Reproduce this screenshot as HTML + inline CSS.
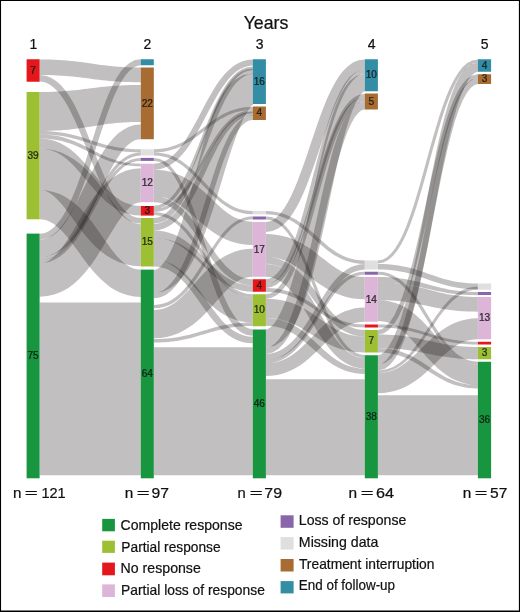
<!DOCTYPE html>
<html><head><meta charset="utf-8"><title>Years</title>
<style>
html,body{margin:0;padding:0;background:#fff}
body{width:520px;height:612px;overflow:hidden}
svg{display:block}
text{font-family:"Liberation Sans",sans-serif;fill:#111;stroke:#111;stroke-width:0.22}
.f{fill:rgba(36,30,28,0.283)}
</style></head><body>
<svg width="520" height="612" viewBox="0 0 520 612">
<rect x="0" y="0" width="520" height="612" fill="#fff"/>
<g>
<path class="f" d="M39.6,59.4L44.8,59.4L49.7,59.5L54.4,59.7L58.8,59.9L63.0,60.2L67.0,60.5L70.8,60.9L74.5,61.3L78.0,61.7L81.4,62.1L84.7,62.6L88.0,63.1L91.2,63.5L94.4,64.0L97.6,64.4L100.9,64.9L104.2,65.3L107.6,65.7L111.0,66.1L114.7,66.4L118.5,66.7L122.4,67.0L126.6,67.2L131.1,67.4L135.8,67.5L140.8,67.5L140.8,82.2L135.6,82.2L130.7,82.1L126.0,82.0L121.6,81.8L117.4,81.5L113.4,81.2L109.6,80.9L106.0,80.6L102.4,80.2L99.0,79.8L95.7,79.4L92.4,79.0L89.2,78.6L86.0,78.1L82.7,77.7L79.5,77.3L76.2,77.0L72.8,76.6L69.3,76.3L65.7,76.0L61.9,75.7L57.9,75.5L53.7,75.3L49.3,75.1L44.6,75.0L39.6,75.0Z"/>
<path class="f" d="M39.6,75.0L45.5,75.7L51.0,77.8L56.0,80.9L60.7,85.1L65.0,90.1L69.0,95.8L72.9,102.1L76.5,109.0L80.0,116.4L83.3,124.1L86.6,132.1L89.8,140.2L93.0,148.4L96.2,156.6L99.4,164.7L102.7,172.6L106.0,180.2L109.4,187.3L112.9,194.0L116.5,200.0L120.2,205.3L124.1,209.7L128.0,213.3L132.1,215.9L136.4,217.5L140.8,218.0L140.8,223.6L135.0,222.9L129.6,220.9L124.6,217.8L120.0,213.7L115.7,208.8L111.7,203.1L107.8,196.8L104.2,189.9L100.6,182.6L97.2,174.9L93.9,167.0L90.6,158.9L87.4,150.7L84.1,142.5L80.9,134.4L77.6,126.6L74.2,119.0L70.8,111.9L67.3,105.3L63.6,99.3L59.9,94.1L56.0,89.7L52.1,86.2L48.0,83.6L43.9,82.1L39.6,81.6Z"/>
<path class="f" d="M39.6,92.0L44.4,92.0L49.0,91.9L53.2,91.8L57.2,91.6L61.0,91.4L64.7,91.1L68.1,90.8L71.5,90.5L74.7,90.2L77.9,89.9L81.1,89.5L84.3,89.1L87.5,88.7L90.7,88.3L94.1,87.9L97.5,87.5L101.0,87.1L104.7,86.7L108.5,86.3L112.5,86.0L116.6,85.7L121.0,85.5L125.5,85.3L130.4,85.1L135.4,85.0L140.8,85.0L140.8,121.9L136.0,121.9L131.4,122.0L127.1,122.2L123.1,122.4L119.3,122.7L115.7,123.1L112.2,123.4L108.9,123.8L105.6,124.3L102.4,124.7L99.3,125.2L96.1,125.7L92.9,126.3L89.7,126.8L86.4,127.3L83.0,127.8L79.5,128.3L75.8,128.8L72.0,129.3L68.0,129.7L63.8,130.1L59.5,130.4L54.9,130.6L50.1,130.8L45.0,131.0L39.6,131.0Z"/>
<path class="f" d="M39.6,131.0L44.8,131.1L49.6,131.3L54.2,131.7L58.6,132.2L62.7,132.8L66.7,133.5L70.4,134.3L74.1,135.2L77.5,136.1L80.9,137.1L84.2,138.1L87.5,139.2L90.7,140.2L93.9,141.3L97.1,142.3L100.4,143.3L103.7,144.3L107.2,145.2L110.7,146.0L114.4,146.8L118.2,147.5L122.2,148.1L126.5,148.6L131.0,148.9L135.7,149.2L140.8,149.2L140.8,152.4L135.6,152.3L130.8,152.1L126.2,151.7L121.8,151.2L117.7,150.6L113.8,149.9L110.0,149.1L106.4,148.3L102.9,147.4L99.5,146.4L96.2,145.4L92.9,144.4L89.7,143.3L86.5,142.3L83.3,141.3L80.0,140.3L76.7,139.3L73.2,138.4L69.7,137.6L66.0,136.8L62.2,136.1L58.1,135.5L53.9,135.1L49.4,134.7L44.6,134.5L39.6,134.4Z"/>
<path class="f" d="M39.6,134.4L44.8,134.5L49.7,134.9L54.4,135.5L58.8,136.3L62.9,137.3L66.9,138.5L70.7,139.7L74.3,141.2L77.8,142.7L81.2,144.3L84.5,145.9L87.8,147.6L91.0,149.3L94.1,150.9L97.4,152.6L100.6,154.2L103.9,155.8L107.3,157.2L110.8,158.6L114.5,159.8L118.3,161.0L122.3,161.9L126.5,162.7L131.0,163.3L135.8,163.6L140.8,163.8L140.8,166.3L135.6,166.2L130.8,165.8L126.1,165.3L121.8,164.5L117.6,163.6L113.7,162.5L109.9,161.3L106.2,159.9L102.7,158.5L99.3,157.0L96.0,155.4L92.7,153.8L89.4,152.2L86.2,150.6L83.0,149.0L79.7,147.5L76.4,146.0L72.9,144.6L69.4,143.3L65.8,142.2L62.0,141.1L58.0,140.2L53.8,139.5L49.3,139.0L44.6,138.6L39.6,138.5Z"/>
<path class="f" d="M39.6,138.5L45.3,138.8L50.7,139.8L55.7,141.3L60.5,143.3L65.0,145.7L69.3,148.6L73.3,151.7L77.0,155.1L80.6,158.7L84.1,162.4L87.5,166.2L90.8,170.1L94.0,174.0L97.2,177.9L100.4,181.7L103.6,185.3L106.8,188.8L110.1,192.1L113.4,195.1L116.9,197.8L120.4,200.2L124.1,202.2L128.0,203.8L132.0,205.0L136.3,205.7L140.8,206.0L140.8,215.6L135.1,215.3L129.8,214.3L124.7,212.8L119.9,210.8L115.5,208.4L111.2,205.6L107.2,202.5L103.4,199.1L99.8,195.6L96.3,191.9L93.0,188.0L89.7,184.2L86.4,180.3L83.2,176.4L80.0,172.7L76.8,169.0L73.5,165.5L70.2,162.3L66.9,159.3L63.4,156.6L59.9,154.3L56.2,152.3L52.4,150.7L48.4,149.5L44.1,148.8L39.6,148.5Z"/>
<path class="f" d="M39.6,148.5L47.4,149.0L54.9,150.5L61.8,152.8L68.3,155.9L74.2,159.4L79.5,163.4L84.4,167.7L88.8,172.1L92.9,176.7L96.7,181.3L100.3,185.9L103.8,190.4L107.0,194.9L110.2,199.2L113.3,203.3L116.3,207.1L119.2,210.6L122.0,213.7L124.7,216.4L127.3,218.7L129.8,220.5L132.1,221.9L134.2,222.9L136.3,223.6L138.4,224.1L140.8,224.2L140.8,266.2L133.0,265.7L125.5,264.2L118.5,261.9L112.0,258.8L106.1,255.2L100.8,251.2L95.9,246.9L91.5,242.4L87.4,237.8L83.6,233.2L80.0,228.6L76.6,224.0L73.4,219.6L70.2,215.3L67.2,211.2L64.2,207.3L61.3,203.8L58.5,200.7L55.8,197.9L53.2,195.6L50.7,193.7L48.4,192.3L46.3,191.3L44.2,190.6L42.0,190.2L39.6,190.0Z"/>
<path class="f" d="M39.6,190.0L46.7,190.5L53.4,191.9L59.7,194.1L65.5,197.0L70.8,200.4L75.7,204.2L80.2,208.3L84.3,212.7L88.2,217.2L91.8,221.8L95.2,226.5L98.5,231.2L101.7,235.8L104.9,240.3L108.0,244.6L111.0,248.8L114.0,252.6L117.0,256.2L120.0,259.3L123.0,262.1L125.9,264.4L128.8,266.3L131.6,267.7L134.5,268.8L137.5,269.4L140.8,269.6L140.8,296.9L133.9,296.4L127.3,295.1L121.1,293.0L115.3,290.2L110.0,286.9L105.2,283.1L100.7,279.1L96.5,274.8L92.6,270.4L88.9,265.9L85.4,261.3L82.0,256.7L78.7,252.1L75.4,247.7L72.3,243.4L69.1,239.3L66.0,235.6L63.0,232.1L59.9,229.0L57.0,226.4L54.0,224.1L51.2,222.4L48.4,221.0L45.6,220.1L42.7,219.5L39.6,219.3Z"/>
<path class="f" d="M39.6,233.8L44.3,233.2L48.7,231.2L53.1,228.1L57.3,223.7L61.5,218.2L65.4,211.7L69.2,204.3L72.9,196.1L76.4,187.4L79.9,178.1L83.2,168.5L86.4,158.6L89.7,148.6L92.9,138.5L96.1,128.6L99.3,118.9L102.6,109.5L105.9,100.5L109.4,92.2L113.0,84.5L116.8,77.6L120.8,71.6L125.2,66.6L129.9,62.7L135.1,60.1L140.8,59.2L140.8,65.2L136.9,65.9L133.2,67.7L129.4,70.8L125.6,75.2L121.9,80.7L118.3,87.2L114.8,94.6L111.4,102.7L108.1,111.5L104.9,120.8L101.6,130.4L98.4,140.3L95.2,150.3L92.0,160.4L88.7,170.3L85.3,180.1L81.8,189.5L78.2,198.4L74.4,206.8L70.4,214.5L66.2,221.4L61.7,227.4L56.9,232.4L51.6,236.2L45.8,238.6L39.6,239.5Z"/>
<path class="f" d="M39.6,239.5L43.3,239.2L46.8,238.2L50.3,236.5L53.8,234.1L57.4,230.9L60.9,227.1L64.4,222.6L67.9,217.5L71.3,211.9L74.7,206.0L78.0,199.7L81.3,193.2L84.6,186.6L87.9,179.9L91.2,173.2L94.6,166.7L98.0,160.3L101.6,154.2L105.3,148.4L109.3,142.9L113.5,138.0L118.0,133.6L123.0,129.9L128.4,126.9L134.4,125.1L140.8,124.4L140.8,139.2L137.5,139.6L134.3,140.6L131.1,142.4L127.9,144.9L124.6,148.2L121.3,152.2L118.1,156.9L114.9,162.1L111.7,167.8L108.6,173.9L105.5,180.3L102.4,186.9L99.3,193.6L96.1,200.4L92.9,207.2L89.5,213.8L86.0,220.3L82.3,226.6L78.4,232.5L74.3,238.1L69.7,243.2L64.7,247.8L59.3,251.6L53.2,254.6L46.6,256.5L39.6,257.2Z"/>
<path class="f" d="M39.6,257.2L44.7,256.8L49.5,255.5L54.0,253.5L58.3,250.8L62.4,247.5L66.3,243.5L70.1,239.1L73.7,234.2L77.2,228.9L80.6,223.4L84.0,217.6L87.2,211.6L90.4,205.6L93.6,199.6L96.8,193.6L100.1,187.8L103.4,182.1L106.8,176.7L110.3,171.7L114.0,167.1L117.8,163.0L121.9,159.4L126.2,156.5L130.8,154.3L135.6,152.9L140.8,152.4L140.8,155.5L136.2,155.9L131.9,157.2L127.8,159.1L123.8,161.8L120.0,165.2L116.3,169.1L112.8,173.6L109.4,178.4L106.0,183.7L102.8,189.3L99.5,195.1L96.3,201.0L93.1,207.0L89.9,213.1L86.6,219.1L83.3,224.9L79.8,230.5L76.2,235.9L72.5,240.9L68.6,245.6L64.4,249.7L60.1,253.2L55.4,256.2L50.5,258.4L45.2,259.7L39.6,260.2Z"/>
<path class="f" d="M39.6,260.2L44.7,259.8L49.5,258.6L54.0,256.6L58.3,254.0L62.4,250.7L66.3,246.8L70.1,242.5L73.7,237.7L77.2,232.6L80.6,227.2L83.9,221.5L87.2,215.7L90.4,209.8L93.6,203.9L96.8,198.1L100.1,192.4L103.4,186.9L106.8,181.7L110.4,176.7L114.0,172.2L117.9,168.2L121.9,164.7L126.2,161.9L130.8,159.7L135.7,158.4L140.8,157.9L140.8,160.9L136.2,161.3L131.8,162.5L127.7,164.5L123.7,167.1L119.9,170.4L116.3,174.2L112.7,178.6L109.3,183.3L106.0,188.5L102.7,193.9L99.5,199.6L96.3,205.4L93.1,211.3L89.8,217.2L86.5,223.0L83.2,228.7L79.7,234.2L76.2,239.5L72.4,244.4L68.5,248.9L64.4,252.9L60.0,256.4L55.4,259.3L50.4,261.4L45.2,262.7L39.6,263.2Z"/>
<path class="f" d="M39.6,263.2L42.3,263.0L44.8,262.4L47.3,261.4L49.9,259.9L52.7,257.8L55.5,255.2L58.5,252.0L61.6,248.3L64.6,244.1L67.7,239.5L70.8,234.6L73.9,229.4L77.1,224.1L80.3,218.6L83.6,213.0L87.0,207.5L90.6,202.0L94.4,196.6L98.4,191.4L102.8,186.4L107.6,181.7L113.0,177.4L119.1,173.7L125.8,170.8L133.1,169.0L140.8,168.3L140.8,202.2L138.8,202.4L136.8,202.9L134.8,203.7L132.5,205.1L130.0,207.1L127.3,209.7L124.5,212.9L121.6,216.7L118.6,220.9L115.6,225.5L112.5,230.5L109.3,235.7L106.1,241.1L102.9,246.7L99.5,252.3L95.9,257.9L92.1,263.4L88.1,268.8L83.8,274.1L79.1,279.1L74.0,283.7L68.3,287.9L62.0,291.5L55.0,294.3L47.5,296.1L39.6,296.7Z"/>
<path class="f" d="M39.6,302.5L44.7,302.5L49.5,302.5L54.1,302.5L58.4,302.5L62.4,302.5L66.3,302.5L70.1,302.5L73.6,302.5L77.1,302.5L80.5,302.5L83.7,302.5L87.0,302.5L90.2,302.5L93.4,302.5L96.7,302.5L99.9,302.5L103.3,302.5L106.8,302.5L110.3,302.5L114.1,302.5L118.0,302.5L122.0,302.5L126.3,302.5L130.9,302.5L135.7,302.5L140.8,302.5L140.8,475.3L135.7,475.3L130.9,475.3L126.3,475.3L122.0,475.3L118.0,475.3L114.1,475.3L110.3,475.3L106.8,475.3L103.3,475.3L99.9,475.3L96.7,475.3L93.4,475.3L90.2,475.3L87.0,475.3L83.7,475.3L80.5,475.3L77.1,475.3L73.6,475.3L70.1,475.3L66.3,475.3L62.4,475.3L58.4,475.3L54.1,475.3L49.5,475.3L44.7,475.3L39.6,475.3Z"/>
<path class="f" d="M153.8,149.2L158.7,149.1L163.3,148.6L167.6,147.7L171.7,146.6L175.6,145.3L179.3,143.7L182.9,141.9L186.3,139.9L189.6,137.8L192.9,135.6L196.0,133.2L199.2,130.8L202.3,128.4L205.5,126.0L208.7,123.5L211.9,121.2L215.3,118.9L218.7,116.7L222.3,114.6L226.0,112.8L229.9,111.1L234.0,109.7L238.3,108.5L242.9,107.6L247.7,107.1L252.8,106.9L252.8,110.0L247.9,110.2L243.3,110.7L239.0,111.5L234.9,112.6L231.0,114.0L227.3,115.6L223.7,117.4L220.3,119.3L217.0,121.5L213.7,123.7L210.5,126.0L207.4,128.4L204.3,130.9L201.1,133.3L197.9,135.7L194.7,138.1L191.4,140.4L187.9,142.6L184.3,144.6L180.6,146.5L176.7,148.2L172.6,149.6L168.3,150.8L163.7,151.7L158.9,152.2L153.8,152.4Z"/>
<path class="f" d="M153.8,152.4L159.0,152.7L163.8,153.4L168.4,154.6L172.8,156.3L176.9,158.3L180.8,160.6L184.5,163.2L188.1,166.0L191.6,169.0L194.9,172.2L198.1,175.5L201.3,178.8L204.5,182.2L207.6,185.6L210.8,188.9L214.0,192.1L217.2,195.2L220.5,198.2L224.0,200.9L227.5,203.3L231.2,205.5L235.1,207.4L239.2,208.9L243.4,210.0L248.0,210.8L252.8,211.0L252.8,214.3L247.6,214.0L242.8,213.3L238.2,212.1L233.8,210.4L229.7,208.4L225.8,206.1L222.0,203.5L218.5,200.6L215.0,197.6L211.7,194.4L208.5,191.1L205.3,187.8L202.1,184.4L199.0,181.0L195.8,177.7L192.7,174.4L189.4,171.3L186.1,168.4L182.7,165.7L179.1,163.2L175.4,161.0L171.5,159.1L167.5,157.6L163.2,156.5L158.6,155.7L153.8,155.5Z"/>
<path class="f" d="M153.8,157.9L159.2,158.7L164.3,161.0L169.0,164.6L173.4,169.4L177.6,175.3L181.5,182.0L185.3,189.5L188.9,197.8L192.4,206.6L195.7,215.8L199.1,225.5L202.3,235.3L205.6,245.2L208.8,255.2L212.1,265.0L215.4,274.5L218.7,283.7L222.2,292.3L225.7,300.4L229.3,307.7L233.1,314.1L236.9,319.5L240.9,323.8L244.8,326.8L248.8,328.6L252.8,329.2L252.8,335.8L246.8,334.9L241.4,332.4L236.4,328.5L231.9,323.4L227.8,317.4L223.9,310.5L220.3,302.8L216.8,294.5L213.5,285.6L210.3,276.3L207.1,266.6L204.1,256.7L201.0,246.7L198.0,236.7L194.9,226.8L191.8,217.2L188.6,208.0L185.3,199.2L181.9,191.0L178.4,183.6L174.7,177.0L170.9,171.4L166.9,166.9L162.7,163.6L158.4,161.6L153.8,160.9Z"/>
<path class="f" d="M153.8,163.8L158.2,163.3L162.4,162.2L166.5,160.3L170.3,157.7L174.1,154.5L177.7,150.7L181.2,146.3L184.6,141.5L187.9,136.3L191.1,130.8L194.3,125.1L197.5,119.2L200.6,113.2L203.7,107.2L206.9,101.2L210.2,95.4L213.5,89.7L216.9,84.3L220.5,79.2L224.3,74.6L228.3,70.4L232.6,66.7L237.1,63.7L242.0,61.4L247.2,59.9L252.8,59.4L252.8,65.6L248.4,66.0L244.2,67.2L240.2,69.0L236.3,71.6L232.6,74.8L229.0,78.6L225.5,83.0L222.1,87.7L218.7,92.9L215.5,98.4L212.3,104.2L209.1,110.0L206.0,116.0L202.8,122.0L199.7,128.0L196.4,133.9L193.1,139.5L189.6,144.9L186.0,150.0L182.2,154.6L178.2,158.8L174.0,162.5L169.4,165.5L164.5,167.8L159.3,169.3L153.8,169.8Z"/>
<path class="f" d="M153.8,169.8L160.0,170.0L165.8,170.8L171.4,172.1L176.7,173.9L181.7,176.0L186.3,178.4L190.6,181.1L194.6,183.9L198.4,186.9L202.0,189.9L205.4,193.0L208.6,196.0L211.8,199.0L214.8,202.0L217.8,204.8L220.7,207.4L223.6,209.9L226.5,212.2L229.4,214.3L232.4,216.2L235.4,217.8L238.5,219.1L241.8,220.2L245.2,221.0L248.8,221.5L252.8,221.7L252.8,245.0L246.8,244.7L241.0,244.0L235.6,242.8L230.4,241.2L225.5,239.2L220.9,236.9L216.6,234.4L212.5,231.7L208.6,228.9L205.0,226.0L201.5,223.1L198.1,220.2L194.8,217.3L191.7,214.5L188.6,211.9L185.5,209.3L182.5,207.0L179.6,204.8L176.6,202.9L173.6,201.2L170.6,199.8L167.6,198.5L164.5,197.6L161.1,196.9L157.6,196.4L153.8,196.2Z"/>
<path class="f" d="M153.8,196.2L159.2,196.6L164.3,197.8L169.2,199.6L173.7,202.0L178.0,204.9L182.0,208.3L185.8,212.0L189.4,216.1L192.9,220.4L196.2,224.9L199.5,229.6L202.7,234.3L205.9,239.1L209.0,243.9L212.2,248.6L215.3,253.1L218.6,257.5L221.9,261.6L225.3,265.4L228.8,268.8L232.4,271.8L236.1,274.4L240.0,276.4L244.0,277.9L248.3,278.9L252.8,279.2L252.8,285.5L247.4,285.1L242.2,284.0L237.4,282.1L232.8,279.7L228.5,276.8L224.5,273.4L220.7,269.7L217.1,265.6L213.7,261.3L210.3,256.7L207.1,252.0L203.9,247.3L200.7,242.5L197.6,237.7L194.5,233.0L191.3,228.4L188.1,224.1L184.8,219.9L181.4,216.1L177.9,212.7L174.3,209.6L170.6,207.1L166.7,205.0L162.6,203.5L158.4,202.5L153.8,202.2Z"/>
<path class="f" d="M153.8,205.8L158.4,205.2L162.8,203.6L167.0,201.0L171.0,197.4L174.9,193.0L178.6,187.7L182.2,181.8L185.6,175.3L189.0,168.3L192.2,160.9L195.4,153.2L198.6,145.3L201.7,137.3L204.9,129.3L208.0,121.3L211.2,113.6L214.5,106.1L217.9,99.0L221.5,92.3L225.2,86.2L229.0,80.7L233.2,76.0L237.6,72.1L242.3,69.1L247.4,67.3L252.8,66.6L252.8,70.2L248.2,70.7L243.9,72.3L239.7,75.0L235.7,78.5L231.9,82.9L228.1,88.2L224.5,94.1L221.1,100.6L217.7,107.6L214.4,115.0L211.2,122.6L208.0,130.5L204.9,138.5L201.7,146.5L198.5,154.4L195.3,162.2L192.0,169.7L188.6,176.8L185.0,183.4L181.3,189.5L177.4,195.0L173.3,199.7L168.9,203.6L164.2,206.5L159.2,208.4L153.8,209.0Z"/>
<path class="f" d="M153.8,209.0L158.5,208.6L163.0,207.4L167.2,205.5L171.3,203.0L175.1,199.8L178.8,196.1L182.4,191.9L185.8,187.3L189.2,182.3L192.4,177.1L195.6,171.6L198.8,166.0L201.9,160.3L205.1,154.6L208.2,149.0L211.5,143.4L214.8,138.1L218.2,133.0L221.7,128.3L225.4,123.9L229.3,120.0L233.5,116.6L237.9,113.8L242.6,111.8L247.5,110.5L252.8,110.0L252.8,113.3L248.1,113.7L243.7,114.9L239.4,116.7L235.4,119.3L231.5,122.4L227.8,126.1L224.3,130.3L220.8,134.9L217.5,139.9L214.2,145.1L211.0,150.6L207.8,156.2L204.7,161.8L201.5,167.5L198.3,173.2L195.1,178.7L191.8,184.0L188.4,189.1L184.8,193.8L181.1,198.2L177.2,202.1L173.0,205.4L168.7,208.2L164.0,210.3L159.0,211.6L153.8,212.0Z"/>
<path class="f" d="M153.8,212.0L159.0,212.4L163.9,213.4L168.6,215.2L173.0,217.5L177.1,220.3L181.0,223.5L184.7,227.2L188.3,231.1L191.7,235.3L195.1,239.8L198.3,244.4L201.5,249.1L204.6,253.8L207.8,258.5L210.9,263.2L214.1,267.7L217.4,272.1L220.7,276.2L224.2,280.0L227.7,283.5L231.4,286.6L235.3,289.2L239.3,291.3L243.6,292.9L248.0,293.9L252.8,294.2L252.8,297.5L247.6,297.1L242.6,296.0L238.0,294.3L233.6,292.0L229.5,289.2L225.5,285.9L221.8,282.3L218.3,278.3L214.8,274.1L211.5,269.6L208.3,265.0L205.1,260.3L202.0,255.6L198.8,250.8L195.7,246.2L192.5,241.6L189.2,237.3L185.9,233.1L182.5,229.3L178.9,225.8L175.2,222.8L171.3,220.1L167.3,218.0L163.1,216.4L158.6,215.4L153.8,215.1Z"/>
<path class="f" d="M153.8,218.0L158.1,217.4L162.2,215.8L166.2,213.1L170.1,209.4L173.9,204.7L177.6,199.1L181.2,192.8L184.6,185.8L188.0,178.3L191.2,170.4L194.4,162.1L197.6,153.7L200.7,145.1L203.9,136.4L207.0,127.9L210.3,119.6L213.6,111.5L217.0,103.8L220.6,96.6L224.3,90.0L228.2,84.1L232.4,78.9L236.9,74.6L241.8,71.3L247.1,69.2L252.8,68.5L252.8,74.0L248.5,74.6L244.4,76.2L240.4,78.9L236.5,82.6L232.7,87.3L229.0,92.9L225.4,99.2L222.0,106.2L218.6,113.7L215.4,121.6L212.2,129.9L209.0,138.3L205.9,146.9L202.7,155.6L199.6,164.1L196.3,172.4L193.0,180.5L189.6,188.2L186.0,195.4L182.3,202.0L178.4,207.9L174.2,213.1L169.7,217.4L164.8,220.7L159.5,222.8L153.8,223.5Z"/>
<path class="f" d="M153.8,224.0L158.2,223.6L162.3,222.3L166.3,220.3L170.1,217.6L173.9,214.1L177.6,210.0L181.1,205.2L184.6,200.0L187.9,194.4L191.3,188.4L194.5,182.2L197.7,175.8L200.9,169.2L204.1,162.7L207.4,156.2L210.7,149.9L214.1,143.8L217.6,138.0L221.2,132.5L224.9,127.5L228.9,123.0L233.1,119.2L237.6,116.0L242.3,113.5L247.4,112.0L252.8,111.5L252.8,115.5L248.2,116.0L243.9,117.3L239.7,119.4L235.8,122.3L232.0,126.0L228.3,130.2L224.8,135.1L221.4,140.4L218.2,146.1L215.0,152.2L211.8,158.5L208.7,164.9L205.7,171.5L202.6,178.1L199.5,184.6L196.3,191.0L193.0,197.2L189.6,203.1L186.1,208.7L182.4,213.8L178.4,218.4L174.2,222.4L169.6,225.8L164.7,228.3L159.4,229.9L153.8,230.5Z"/>
<path class="f" d="M153.8,230.5L159.1,230.8L164.2,231.5L169.0,232.7L173.5,234.3L177.8,236.2L181.8,238.4L185.6,240.9L189.3,243.7L192.7,246.5L196.1,249.6L199.4,252.7L202.5,255.8L205.7,259.0L208.8,262.1L211.9,265.2L215.0,268.2L218.2,271.1L221.5,273.8L224.8,276.3L228.3,278.5L231.9,280.5L235.6,282.2L239.5,283.6L243.7,284.6L248.1,285.3L252.8,285.5L252.8,291.7L247.5,291.5L242.5,290.7L237.8,289.6L233.3,288.0L229.0,286.1L225.0,284.0L221.2,281.5L217.5,278.8L214.0,276.0L210.6,273.0L207.3,270.0L204.1,266.9L200.9,263.7L197.8,260.6L194.6,257.6L191.4,254.6L188.2,251.8L184.9,249.2L181.6,246.7L178.1,244.5L174.5,242.6L170.8,240.9L166.9,239.6L162.8,238.6L158.4,238.0L153.8,237.8Z"/>
<path class="f" d="M153.8,237.8L160.0,238.1L165.9,239.0L171.4,240.5L176.7,242.5L181.6,245.0L186.2,247.7L190.5,250.8L194.6,254.1L198.4,257.5L202.0,261.0L205.5,264.5L208.8,268.1L212.1,271.6L215.3,275.0L218.4,278.3L221.4,281.4L224.5,284.3L227.5,287.0L230.5,289.4L233.5,291.5L236.5,293.3L239.5,294.8L242.6,295.9L245.8,296.8L249.1,297.3L252.8,297.5L252.8,322.5L246.5,322.2L240.4,321.2L234.7,319.5L229.4,317.4L224.4,314.8L219.8,311.9L215.5,308.7L211.5,305.3L207.7,301.8L204.2,298.2L200.9,294.5L197.6,290.8L194.5,287.2L191.5,283.7L188.5,280.2L185.5,277.0L182.6,274.0L179.6,271.1L176.7,268.6L173.7,266.4L170.7,264.4L167.6,262.8L164.4,261.5L161.1,260.6L157.6,260.0L153.8,259.8Z"/>
<path class="f" d="M153.8,259.8L159.2,260.2L164.4,261.2L169.2,262.9L173.8,265.1L178.1,267.9L182.1,271.0L185.9,274.5L189.6,278.3L193.0,282.3L196.4,286.5L199.7,290.8L202.9,295.2L206.0,299.7L209.1,304.1L212.3,308.4L215.5,312.6L218.7,316.6L221.9,320.4L225.3,323.9L228.8,327.1L232.4,329.9L236.1,332.2L239.9,334.1L244.0,335.5L248.3,336.4L252.8,336.7L252.8,343.3L247.4,342.9L242.2,341.9L237.4,340.2L232.8,338.0L228.5,335.3L224.5,332.1L220.7,328.7L217.1,324.9L213.6,320.9L210.2,316.7L206.9,312.3L203.7,307.9L200.6,303.5L197.4,299.1L194.3,294.8L191.1,290.6L187.9,286.5L184.6,282.7L181.3,279.3L177.8,276.1L174.2,273.3L170.5,271.0L166.7,269.1L162.6,267.7L158.3,266.8L153.8,266.5Z"/>
<path class="f" d="M153.8,270.0L155.8,269.7L158.1,268.5L161.1,266.0L164.4,262.1L167.9,256.7L171.3,250.1L174.8,242.3L178.1,233.6L181.3,224.1L184.4,214.1L187.4,203.5L190.4,192.6L193.3,181.6L196.2,170.4L199.2,159.3L202.1,148.4L205.1,137.9L208.3,127.7L211.6,118.0L215.1,109.0L219.0,100.6L223.3,92.9L228.4,86.0L234.7,79.9L242.9,75.3L252.8,73.5L252.8,104.4L253.6,104.2L253.2,104.5L251.4,106.1L248.7,109.5L245.7,114.6L242.4,121.0L239.1,128.6L235.8,137.2L232.5,146.5L229.2,156.5L225.9,167.0L222.6,177.9L219.3,188.9L215.9,200.0L212.4,211.0L208.8,221.8L205.1,232.4L201.2,242.5L197.2,252.0L192.8,260.9L188.2,269.0L183.1,276.4L177.3,282.8L170.6,288.0L162.7,291.7L153.8,293.0Z"/>
<path class="f" d="M153.8,293.0L158.5,292.3L163.0,290.4L167.4,287.1L171.7,282.6L175.8,277.0L179.8,270.3L183.6,262.8L187.2,254.4L190.8,245.5L194.2,236.0L197.4,226.2L200.7,216.1L203.8,205.8L207.0,195.6L210.1,185.4L213.2,175.5L216.4,165.9L219.7,156.8L223.0,148.3L226.5,140.5L230.1,133.5L234.0,127.4L238.1,122.3L242.5,118.4L247.4,115.9L252.8,115.0L252.8,120.0L249.1,120.6L245.4,122.6L241.7,125.8L238.1,130.3L234.5,136.0L231.0,142.7L227.7,150.3L224.4,158.6L221.2,167.6L218.1,177.1L215.0,186.9L211.9,197.1L208.8,207.3L205.6,217.6L202.4,227.8L199.1,237.7L195.6,247.3L192.1,256.4L188.3,265.0L184.4,272.8L180.2,279.9L175.8,286.0L170.9,291.1L165.7,294.9L160.0,297.4L153.8,298.3Z"/>
<path class="f" d="M153.8,305.0L158.8,304.6L163.5,303.6L168.0,301.9L172.2,299.6L176.2,296.8L180.1,293.5L183.8,289.7L187.4,285.6L190.8,281.1L194.1,276.4L197.4,271.5L200.6,266.5L203.7,261.4L206.9,256.3L210.0,251.2L213.2,246.3L216.5,241.5L219.8,236.9L223.2,232.7L226.8,228.7L230.6,225.2L234.5,222.2L238.7,219.7L243.1,217.9L247.8,216.7L252.8,216.3L252.8,219.3L248.3,219.7L244.1,220.7L240.1,222.4L236.2,224.7L232.5,227.5L229.0,230.9L225.6,234.6L222.2,238.8L219.0,243.3L215.8,248.0L212.7,252.9L209.5,257.9L206.4,263.0L203.3,268.2L200.1,273.3L196.8,278.2L193.4,283.0L189.9,287.6L186.2,291.9L182.3,295.8L178.3,299.3L173.9,302.4L169.4,304.9L164.5,306.7L159.3,307.9L153.8,308.3Z"/>
<path class="f" d="M153.8,310.0L157.5,309.8L160.9,309.3L164.1,308.4L167.1,307.3L170.1,305.8L173.1,304.0L176.0,302.0L178.9,299.6L181.9,296.9L184.9,294.0L187.9,290.9L190.9,287.5L194.0,284.1L197.2,280.5L200.4,276.9L203.8,273.3L207.4,269.7L211.2,266.1L215.2,262.7L219.5,259.5L224.2,256.5L229.2,253.9L234.6,251.7L240.3,250.1L246.4,249.1L252.8,248.7L252.8,276.7L249.6,276.9L246.6,277.4L243.7,278.2L241.0,279.3L238.3,280.8L235.5,282.5L232.7,284.6L229.9,287.0L227.1,289.7L224.2,292.7L221.2,295.9L218.2,299.2L215.1,302.8L211.9,306.4L208.5,310.1L205.0,313.7L201.3,317.4L197.4,321.0L193.1,324.4L188.6,327.6L183.7,330.6L178.4,333.2L172.8,335.3L166.8,337.0L160.4,338.0L153.8,338.3Z"/>
<path class="f" d="M153.8,339.0L158.8,338.9L163.5,338.7L167.9,338.4L172.1,338.0L176.1,337.4L179.9,336.8L183.5,336.1L187.0,335.3L190.3,334.5L193.6,333.6L196.8,332.7L200.0,331.8L203.1,330.8L206.3,329.9L209.4,328.9L212.7,328.0L216.0,327.1L219.4,326.3L222.9,325.5L226.6,324.8L230.4,324.1L234.4,323.6L238.6,323.1L243.1,322.8L247.8,322.6L252.8,322.5L252.8,326.0L247.9,326.1L243.3,326.3L238.9,326.6L234.8,327.0L230.9,327.6L227.2,328.2L223.6,328.9L220.2,329.7L216.9,330.5L213.6,331.4L210.4,332.3L207.3,333.2L204.1,334.2L201.0,335.1L197.8,336.1L194.5,337.0L191.2,337.9L187.8,338.7L184.2,339.5L180.5,340.2L176.6,340.9L172.5,341.4L168.2,341.9L163.7,342.2L158.9,342.4L153.8,342.5Z"/>
<path class="f" d="M153.8,347.3L158.8,347.3L163.5,347.3L167.9,347.3L172.2,347.3L176.2,347.3L180.0,347.3L183.6,347.3L187.1,347.3L190.5,347.3L193.8,347.3L197.0,347.3L200.2,347.3L203.3,347.3L206.4,347.3L209.6,347.3L212.8,347.3L216.1,347.3L219.5,347.3L223.0,347.3L226.6,347.3L230.4,347.3L234.4,347.3L238.7,347.3L243.1,347.3L247.8,347.3L252.8,347.3L252.8,475.3L247.8,475.3L243.1,475.3L238.7,475.3L234.4,475.3L230.4,475.3L226.6,475.3L223.0,475.3L219.5,475.3L216.1,475.3L212.8,475.3L209.6,475.3L206.4,475.3L203.3,475.3L200.2,475.3L197.0,475.3L193.8,475.3L190.5,475.3L187.1,475.3L183.6,475.3L180.0,475.3L176.2,475.3L172.2,475.3L167.9,475.3L163.5,475.3L158.8,475.3L153.8,475.3Z"/>
<path class="f" d="M265.9,211.0L271.0,211.2L275.9,211.9L280.5,212.9L284.8,214.3L288.9,215.9L292.8,217.9L296.6,220.1L300.1,222.5L303.6,225.0L306.9,227.7L310.2,230.5L313.3,233.3L316.5,236.2L319.6,239.0L322.8,241.8L326.0,244.6L329.2,247.2L332.5,249.6L336.0,251.9L339.5,254.0L343.2,255.9L347.1,257.5L351.1,258.7L355.4,259.7L360.0,260.3L364.8,260.5L364.8,264.0L359.7,263.8L354.8,263.1L350.2,262.1L345.9,260.7L341.7,259.0L337.8,257.1L334.1,254.9L330.5,252.5L327.1,249.9L323.8,247.2L320.5,244.4L317.3,241.6L314.2,238.7L311.1,235.9L307.9,233.0L304.8,230.3L301.5,227.7L298.2,225.2L294.8,222.9L291.2,220.8L287.5,219.0L283.7,217.4L279.6,216.1L275.3,215.1L270.7,214.5L265.9,214.3Z"/>
<path class="f" d="M265.9,216.5L271.2,217.1L276.3,219.0L280.9,221.9L285.3,225.8L289.4,230.5L293.3,235.9L297.0,242.0L300.5,248.6L303.9,255.7L307.2,263.1L310.5,270.9L313.6,278.8L316.8,286.7L319.9,294.7L323.1,302.6L326.3,310.2L329.6,317.6L332.9,324.6L336.4,331.1L340.0,337.0L343.7,342.2L347.6,346.7L351.6,350.2L355.8,352.8L360.2,354.4L364.8,355.0L364.8,358.2L359.4,357.6L354.4,355.7L349.7,352.8L345.3,348.9L341.2,344.2L337.3,338.7L333.7,332.6L330.1,326.0L326.7,318.9L323.4,311.5L320.2,303.8L317.0,295.9L313.9,287.9L310.8,279.9L307.6,272.0L304.4,264.3L301.2,257.0L297.8,250.0L294.3,243.5L290.8,237.6L287.0,232.3L283.2,227.9L279.1,224.3L274.9,221.7L270.5,220.1L265.9,219.5Z"/>
<path class="f" d="M265.9,222.0L269.5,221.5L273.1,219.9L276.7,217.3L280.4,213.4L284.1,208.5L287.7,202.6L291.2,195.8L294.6,188.3L297.9,180.2L301.1,171.6L304.3,162.7L307.5,153.5L310.6,144.1L313.8,134.7L316.9,125.4L320.2,116.3L323.5,107.5L326.9,99.1L330.5,91.2L334.3,83.9L338.3,77.3L342.6,71.5L347.4,66.7L352.6,62.8L358.4,60.3L364.8,59.4L364.8,69.4L361.2,69.9L357.6,71.5L354.0,74.1L350.3,78.0L346.6,82.9L343.0,88.8L339.5,95.6L336.1,103.1L332.8,111.2L329.6,119.8L326.4,128.7L323.2,137.9L320.1,147.3L316.9,156.7L313.8,166.0L310.5,175.1L307.2,183.9L303.8,192.3L300.2,200.2L296.4,207.5L292.4,214.1L288.1,219.9L283.3,224.7L278.1,228.6L272.3,231.1L265.9,232.0Z"/>
<path class="f" d="M265.9,234.0L271.7,234.2L277.3,234.9L282.6,235.9L287.7,237.3L292.4,238.9L296.9,240.9L301.1,243.1L305.1,245.4L308.9,247.8L312.5,250.3L315.9,252.9L319.1,255.4L322.3,257.9L325.4,260.3L328.4,262.7L331.4,264.9L334.4,267.0L337.4,268.9L340.4,270.7L343.4,272.2L346.5,273.6L349.8,274.8L353.2,275.7L356.8,276.4L360.6,276.8L364.8,277.0L364.8,299.2L359.0,299.0L353.4,298.4L348.2,297.4L343.1,296.0L338.4,294.3L333.9,292.4L329.7,290.3L325.7,288.0L321.9,285.6L318.3,283.2L314.9,280.7L311.6,278.2L308.4,275.7L305.3,273.3L302.2,271.0L299.2,268.8L296.2,266.7L293.2,264.9L290.2,263.1L287.2,261.6L284.0,260.3L280.8,259.2L277.4,258.3L273.9,257.6L270.0,257.2L265.9,257.0Z"/>
<path class="f" d="M265.9,257.0L271.3,257.3L276.4,258.3L281.3,259.9L285.8,262.0L290.1,264.6L294.1,267.6L298.0,270.9L301.6,274.5L305.1,278.3L308.4,282.3L311.7,286.4L314.9,290.6L318.0,294.8L321.1,299.0L324.3,303.1L327.4,307.1L330.6,310.9L333.9,314.5L337.3,317.8L340.7,320.9L344.3,323.5L348.0,325.7L351.9,327.5L355.9,328.9L360.2,329.7L364.8,330.0L364.8,336.5L359.4,336.2L354.3,335.2L349.5,333.6L344.9,331.5L340.7,328.9L336.6,325.9L332.8,322.6L329.2,319.1L325.7,315.3L322.3,311.3L319.1,307.2L315.9,303.0L312.7,298.8L309.6,294.6L306.4,290.5L303.2,286.5L300.0,282.7L296.8,279.1L293.4,275.8L289.9,272.8L286.4,270.2L282.6,268.0L278.8,266.2L274.7,264.9L270.5,264.0L265.9,263.8Z"/>
<path class="f" d="M265.9,264.0L271.9,264.5L277.6,265.9L282.9,268.2L287.8,271.1L292.3,274.6L296.5,278.6L300.4,283.0L304.0,287.7L307.5,292.7L310.9,297.8L314.1,303.2L317.2,308.5L320.3,314.0L323.4,319.3L326.5,324.6L329.6,329.7L332.7,334.6L335.9,339.1L339.2,343.3L342.5,347.1L345.9,350.4L349.4,353.1L353.0,355.3L356.8,356.9L360.7,357.9L364.8,358.2L364.8,368.6L359.0,368.1L353.5,366.8L348.3,364.6L343.5,361.8L339.0,358.4L334.8,354.6L330.9,350.3L327.2,345.7L323.6,340.8L320.2,335.7L316.8,330.5L313.6,325.1L310.4,319.8L307.2,314.5L304.0,309.3L300.8,304.3L297.6,299.5L294.3,295.0L291.0,290.9L287.6,287.3L284.2,284.1L280.7,281.5L277.2,279.4L273.6,277.9L269.9,277.0L265.9,276.7Z"/>
<path class="f" d="M265.9,279.2L270.0,278.4L274.1,276.2L278.2,272.3L282.1,267.0L286.0,260.2L289.8,252.3L293.4,243.4L296.8,233.5L300.2,222.9L303.5,211.7L306.7,200.1L309.9,188.2L313.0,176.1L316.2,164.0L319.4,152.0L322.6,140.4L325.9,129.1L329.3,118.4L332.8,108.4L336.5,99.2L340.4,90.9L344.5,83.8L348.9,77.9L353.7,73.4L359.0,70.5L364.8,69.4L364.8,74.0L360.6,74.8L356.5,77.1L352.4,81.0L348.4,86.3L344.5,93.1L340.8,101.0L337.2,110.0L333.8,119.9L330.4,130.5L327.1,141.6L324.0,153.3L320.8,165.2L317.7,177.3L314.5,189.4L311.4,201.4L308.2,213.1L304.9,224.3L301.5,235.1L298.0,245.1L294.3,254.3L290.4,262.5L286.3,269.7L281.9,275.6L277.1,280.2L271.8,283.1L265.9,284.2Z"/>
<path class="f" d="M265.9,284.2L270.3,283.5L274.5,281.3L278.7,277.8L282.7,272.9L286.6,266.7L290.3,259.5L294.0,251.4L297.4,242.4L300.8,232.8L304.1,222.6L307.3,212.1L310.5,201.2L313.7,190.3L316.8,179.3L320.0,168.4L323.2,157.8L326.5,147.6L329.9,137.9L333.5,128.8L337.2,120.4L341.0,113.0L345.1,106.6L349.5,101.3L354.2,97.2L359.3,94.7L364.8,93.8L364.8,97.0L360.3,97.7L356.0,99.9L351.8,103.5L347.8,108.5L343.9,114.6L340.2,121.9L336.6,130.0L333.1,139.0L329.8,148.7L326.5,158.8L323.3,169.4L320.2,180.2L317.0,191.2L313.9,202.2L310.8,213.1L307.6,223.7L304.3,233.9L300.9,243.7L297.4,252.8L293.7,261.1L289.9,268.6L285.8,275.0L281.4,280.4L276.7,284.5L271.5,287.1L265.9,288.0Z"/>
<path class="f" d="M265.9,288.0L271.0,288.2L275.8,288.6L280.4,289.4L284.7,290.4L288.8,291.6L292.7,293.1L296.4,294.7L300.0,296.4L303.4,298.3L306.7,300.3L310.0,302.3L313.1,304.4L316.3,306.5L319.4,308.6L322.5,310.7L325.7,312.7L328.9,314.6L332.3,316.4L335.7,318.1L339.2,319.7L343.0,321.0L346.9,322.2L351.0,323.2L355.3,323.9L359.9,324.3L364.8,324.5L364.8,327.5L359.7,327.3L354.9,326.9L350.4,326.2L346.1,325.2L342.0,324.0L338.1,322.6L334.4,321.0L330.8,319.2L327.4,317.4L324.0,315.5L320.8,313.4L317.6,311.4L314.4,309.3L311.3,307.3L308.1,305.2L304.9,303.3L301.7,301.4L298.4,299.6L294.9,297.9L291.4,296.4L287.7,295.1L283.8,293.9L279.7,293.0L275.4,292.3L270.8,291.9L265.9,291.7Z"/>
<path class="f" d="M265.9,294.2L270.1,293.5L274.3,291.3L278.4,287.6L282.4,282.6L286.3,276.3L290.0,268.9L293.6,260.4L297.0,251.2L300.4,241.2L303.7,230.7L306.9,219.8L310.0,208.6L313.2,197.3L316.3,185.9L319.5,174.7L322.7,163.7L326.0,153.1L329.4,143.0L332.9,133.6L336.6,125.0L340.5,117.2L344.6,110.5L349.0,105.0L353.8,100.7L359.1,98.0L364.8,97.0L364.8,101.5L360.6,102.2L356.4,104.4L352.3,108.1L348.3,113.1L344.4,119.4L340.7,126.8L337.1,135.3L333.7,144.5L330.3,154.5L327.0,165.0L323.8,175.9L320.7,187.1L317.5,198.4L314.4,209.8L311.2,221.0L308.0,232.0L304.7,242.6L301.3,252.7L297.8,262.1L294.1,270.7L290.2,278.5L286.1,285.2L281.7,290.7L276.9,295.0L271.6,297.7L265.9,298.7Z"/>
<path class="f" d="M265.9,298.7L271.5,298.9L276.8,299.4L281.9,300.3L286.7,301.4L291.2,302.8L295.5,304.5L299.6,306.3L303.4,308.3L307.1,310.3L310.6,312.5L313.9,314.7L317.1,316.9L320.2,319.1L323.3,321.2L326.3,323.3L329.3,325.3L332.3,327.1L335.4,328.9L338.5,330.5L341.7,332.0L345.0,333.3L348.5,334.4L352.2,335.3L356.1,335.9L360.3,336.4L364.8,336.5L364.8,352.5L359.3,352.3L354.1,351.9L349.1,351.1L344.4,350.0L339.9,348.7L335.6,347.3L331.6,345.6L327.7,343.8L324.0,341.9L320.4,339.9L317.0,337.8L313.7,335.8L310.5,333.8L307.3,331.8L304.2,329.9L301.1,328.1L298.0,326.3L294.9,324.8L291.8,323.3L288.5,322.0L285.2,320.9L281.8,319.9L278.2,319.1L274.4,318.5L270.3,318.1L265.9,318.0Z"/>
<path class="f" d="M265.9,318.0L271.2,318.2L276.3,318.9L281.0,320.0L285.5,321.5L289.8,323.2L293.8,325.3L297.6,327.6L301.3,330.1L304.7,332.7L308.1,335.5L311.3,338.4L314.5,341.3L317.6,344.2L320.7,347.0L323.7,349.9L326.9,352.6L330.0,355.2L333.2,357.7L336.6,360.0L340.0,362.1L343.6,364.0L347.4,365.5L351.4,366.8L355.6,367.8L360.0,368.4L364.8,368.6L364.8,374.0L359.6,373.8L354.6,373.1L350.0,372.1L345.5,370.8L341.3,369.1L337.3,367.1L333.5,365.0L329.8,362.6L326.3,360.0L322.9,357.4L319.6,354.6L316.3,351.8L313.1,349.0L310.0,346.3L306.8,343.5L303.6,340.9L300.4,338.4L297.1,336.0L293.7,333.8L290.2,331.9L286.7,330.1L282.9,328.6L279.0,327.4L274.9,326.6L270.5,326.0L265.9,325.8Z"/>
<path class="f" d="M265.9,329.5L267.9,329.1L270.6,327.3L274.2,323.6L278.0,317.7L281.9,310.0L285.8,300.7L289.5,290.1L293.2,278.3L296.7,265.5L300.0,252.0L303.3,237.9L306.6,223.4L309.7,208.7L312.9,194.0L316.0,179.4L319.2,165.1L322.4,151.4L325.7,138.2L329.0,125.9L332.6,114.5L336.3,104.2L340.3,95.1L344.7,87.3L349.9,80.8L356.4,76.0L364.8,74.0L364.8,91.2L364.1,91.5L362.1,93.0L359.1,96.8L355.8,102.7L352.4,110.5L349.0,119.9L345.7,130.7L342.5,142.6L339.4,155.4L336.2,169.0L333.2,183.1L330.1,197.7L327.0,212.4L323.8,227.2L320.6,241.8L317.3,256.1L313.9,270.0L310.3,283.2L306.5,295.6L302.5,307.1L298.2,317.5L293.6,326.7L288.4,334.6L282.2,341.1L274.8,345.7L265.9,347.5Z"/>
<path class="f" d="M265.9,347.5L270.2,346.7L274.4,344.1L278.8,339.6L283.1,333.4L287.2,325.5L291.1,316.3L294.9,305.8L298.5,294.3L302.0,282.0L305.4,268.9L308.6,255.3L311.8,241.4L314.9,227.3L318.0,213.2L321.0,199.2L324.1,185.5L327.3,172.4L330.5,159.8L333.7,148.1L337.2,137.3L340.8,127.7L344.6,119.3L348.7,112.3L353.2,106.7L358.6,102.9L364.8,101.5L364.8,109.4L361.9,110.1L358.7,112.4L355.1,116.7L351.5,122.9L347.9,130.6L344.4,139.9L341.0,150.3L337.7,161.8L334.5,174.2L331.3,187.2L328.1,200.8L325.0,214.7L321.8,228.8L318.6,242.9L315.3,256.9L312.0,270.6L308.5,283.7L304.9,296.2L301.1,308.0L297.2,318.7L293.0,328.3L288.5,336.7L283.7,343.6L278.4,349.0L272.5,352.5L265.9,353.8Z"/>
<path class="f" d="M265.9,353.8L270.7,353.4L275.2,352.4L279.5,350.8L283.5,348.6L287.4,345.8L291.2,342.5L294.8,338.8L298.3,334.7L301.7,330.2L305.1,325.5L308.3,320.6L311.5,315.5L314.6,310.3L317.8,305.1L321.0,300.0L324.2,294.9L327.4,290.1L330.8,285.4L334.3,281.0L337.9,277.0L341.8,273.4L345.8,270.2L350.1,267.6L354.7,265.7L359.6,264.4L364.8,264.0L364.8,269.5L360.5,269.9L356.5,270.9L352.7,272.5L349.0,274.8L345.4,277.6L342.0,280.9L338.6,284.6L335.3,288.8L332.1,293.3L329.0,298.1L325.9,303.0L322.8,308.1L319.7,313.3L316.5,318.6L313.3,323.7L310.0,328.8L306.6,333.7L303.1,338.4L299.3,342.8L295.4,346.9L291.3,350.6L286.8,353.8L282.1,356.4L277.0,358.3L271.6,359.6L265.9,360.0Z"/>
<path class="f" d="M265.9,360.0L270.9,359.6L275.6,358.6L280.1,356.9L284.3,354.6L288.3,351.8L292.2,348.5L295.9,344.8L299.4,340.7L302.9,336.2L306.2,331.6L309.4,326.7L312.6,321.7L315.8,316.6L318.9,311.5L322.1,306.5L325.3,301.5L328.5,296.8L331.8,292.2L335.3,288.0L338.8,284.1L342.6,280.6L346.5,277.6L350.7,275.1L355.1,273.3L359.8,272.1L364.8,271.7L364.8,274.7L360.3,275.1L356.1,276.1L352.1,277.8L348.2,280.1L344.6,282.9L341.0,286.2L337.6,290.0L334.3,294.1L331.0,298.5L327.8,303.2L324.7,308.1L321.6,313.2L318.5,318.3L315.3,323.4L312.1,328.4L308.8,333.4L305.4,338.1L301.9,342.7L298.3,347.0L294.4,350.9L290.3,354.4L286.0,357.4L281.4,359.9L276.6,361.7L271.4,362.9L265.9,363.3Z"/>
<path class="f" d="M265.9,363.3L270.5,363.1L274.7,362.5L278.7,361.5L282.5,360.2L286.1,358.6L289.5,356.7L292.9,354.5L296.1,352.1L299.3,349.4L302.4,346.6L305.5,343.7L308.6,340.6L311.7,337.4L314.8,334.2L318.0,331.0L321.2,327.8L324.6,324.6L328.1,321.6L331.8,318.8L335.8,316.1L339.9,313.7L344.3,311.6L349.0,309.9L354.0,308.6L359.3,307.8L364.8,307.5L364.8,321.7L360.7,321.9L356.8,322.5L353.2,323.4L349.7,324.6L346.4,326.2L343.1,328.0L340.0,330.1L336.8,332.4L333.7,335.0L330.6,337.8L327.5,340.7L324.4,343.7L321.2,346.9L318.0,350.0L314.7,353.2L311.3,356.3L307.8,359.4L304.1,362.4L300.2,365.2L296.1,367.8L291.8,370.1L287.1,372.1L282.3,373.7L277.1,375.0L271.6,375.7L265.9,376.0Z"/>
<path class="f" d="M265.9,379.3L270.9,379.3L275.6,379.3L280.0,379.3L284.2,379.3L288.2,379.3L292.0,379.3L295.7,379.3L299.2,379.3L302.5,379.3L305.8,379.3L309.0,379.3L312.2,379.3L315.4,379.3L318.5,379.3L321.7,379.3L324.9,379.3L328.2,379.3L331.5,379.3L335.0,379.3L338.7,379.3L342.5,379.3L346.5,379.3L350.7,379.3L355.1,379.3L359.8,379.3L364.8,379.3L364.8,475.3L359.8,475.3L355.1,475.3L350.7,475.3L346.5,475.3L342.5,475.3L338.7,475.3L335.0,475.3L331.5,475.3L328.2,475.3L324.9,475.3L321.7,475.3L318.5,475.3L315.4,475.3L312.2,475.3L309.0,475.3L305.8,475.3L302.5,475.3L299.2,475.3L295.7,475.3L292.0,475.3L288.2,475.3L284.2,475.3L280.0,475.3L275.6,475.3L270.9,475.3L265.9,475.3Z"/>
<path class="f" d="M377.9,260.5L382.4,259.7L386.8,257.4L391.1,253.6L395.2,248.3L399.2,241.8L403.0,234.2L406.6,225.6L410.1,216.1L413.5,205.9L416.8,195.2L420.1,184.1L423.3,172.6L426.4,161.1L429.6,149.5L432.8,138.0L436.1,126.9L439.4,116.1L442.8,105.8L446.4,96.3L450.1,87.5L454.0,79.7L458.1,72.9L462.5,67.3L467.2,63.1L472.3,60.4L477.9,59.4L477.9,62.5L473.4,63.3L469.0,65.6L464.8,69.4L460.6,74.6L456.7,81.1L452.9,88.8L449.2,97.4L445.7,106.8L442.3,117.0L439.0,127.7L435.8,138.9L432.5,150.3L429.4,161.9L426.2,173.5L423.0,184.9L419.7,196.1L416.4,206.9L413.0,217.1L409.4,226.7L405.7,235.4L401.8,243.3L397.7,250.0L393.3,255.6L388.6,259.8L383.4,262.5L377.9,263.5Z"/>
<path class="f" d="M377.9,264.0L383.0,264.1L387.9,264.3L392.5,264.7L396.8,265.3L401.0,265.9L404.9,266.7L408.7,267.6L412.3,268.5L415.8,269.5L419.1,270.6L422.4,271.7L425.7,272.8L428.8,273.9L432.0,275.0L435.2,276.1L438.4,277.2L441.7,278.2L445.0,279.2L448.5,280.1L452.1,280.9L455.8,281.7L459.8,282.3L463.9,282.8L468.3,283.2L473.0,283.4L477.9,283.5L477.9,289.2L472.8,289.1L467.9,288.9L463.3,288.5L459.0,287.9L454.8,287.3L450.9,286.5L447.1,285.6L443.5,284.6L440.0,283.6L436.7,282.6L433.4,281.5L430.1,280.3L427.0,279.2L423.8,278.1L420.6,276.9L417.4,275.9L414.1,274.8L410.8,273.8L407.3,272.9L403.7,272.1L400.0,271.4L396.1,270.7L391.9,270.2L387.5,269.8L382.8,269.6L377.9,269.5Z"/>
<path class="f" d="M377.9,271.7L383.2,272.1L388.2,273.3L392.8,275.2L397.3,277.7L401.4,280.7L405.4,284.3L409.1,288.3L412.7,292.6L416.2,297.2L419.5,302.1L422.8,307.1L426.0,312.3L429.2,317.4L432.4,322.6L435.6,327.7L438.8,332.7L442.1,337.5L445.5,342.0L449.0,346.2L452.6,350.0L456.3,353.4L460.2,356.2L464.3,358.5L468.6,360.3L473.1,361.3L477.9,361.7L477.9,364.9L472.6,364.5L467.6,363.3L462.9,361.4L458.5,358.9L454.3,355.8L450.4,352.3L446.6,348.3L443.0,343.9L439.6,339.3L436.2,334.4L433.0,329.4L429.8,324.3L426.6,319.1L423.4,313.9L420.2,308.8L417.0,303.8L413.7,299.0L410.3,294.5L406.9,290.3L403.3,286.5L399.5,283.1L395.6,280.2L391.5,277.9L387.2,276.1L382.7,275.1L377.9,274.7Z"/>
<path class="f" d="M377.9,277.0L383.0,277.1L387.8,277.3L392.4,277.6L396.7,278.0L400.8,278.5L404.7,279.1L408.4,279.7L412.0,280.4L415.5,281.2L418.8,282.0L422.1,282.8L425.3,283.7L428.4,284.6L431.6,285.4L434.8,286.3L438.0,287.1L441.3,287.9L444.6,288.6L448.1,289.4L451.7,290.0L455.5,290.6L459.5,291.1L463.7,291.5L468.2,291.7L472.9,291.9L477.9,292.0L477.9,295.2L472.8,295.1L468.0,295.0L463.5,294.7L459.2,294.4L455.1,294.0L451.2,293.5L447.5,292.9L443.9,292.3L440.4,291.6L437.1,291.0L433.8,290.2L430.6,289.5L427.4,288.8L424.2,288.1L421.0,287.3L417.7,286.6L414.4,286.0L411.1,285.3L407.6,284.7L403.9,284.2L400.1,283.7L396.2,283.3L392.0,283.0L387.6,282.7L382.9,282.6L377.9,282.5Z"/>
<path class="f" d="M377.9,282.5L383.1,282.6L388.1,282.8L392.8,283.1L397.3,283.5L401.5,284.0L405.5,284.5L409.4,285.2L413.1,285.9L416.6,286.7L420.0,287.5L423.4,288.3L426.6,289.1L429.8,290.0L432.9,290.8L436.0,291.6L439.2,292.4L442.4,293.1L445.7,293.9L449.0,294.5L452.5,295.1L456.2,295.7L460.1,296.1L464.1,296.5L468.4,296.8L473.0,296.9L477.9,297.0L477.9,311.7L472.7,311.6L467.8,311.5L463.1,311.3L458.7,310.9L454.4,310.5L450.4,310.0L446.6,309.5L442.9,308.9L439.3,308.3L435.9,307.7L432.5,307.0L429.2,306.3L426.0,305.6L422.9,305.0L419.7,304.3L416.5,303.7L413.3,303.1L410.0,302.5L406.6,302.0L403.1,301.5L399.5,301.1L395.6,300.7L391.6,300.4L387.3,300.2L382.7,300.0L377.9,300.0Z"/>
<path class="f" d="M377.9,300.0L384.1,300.3L390.0,301.4L395.6,303.0L400.9,305.1L405.8,307.7L410.3,310.7L414.6,313.9L418.5,317.4L422.3,321.0L425.8,324.7L429.2,328.5L432.5,332.3L435.7,336.1L438.8,339.7L441.9,343.3L445.0,346.7L448.0,349.9L451.1,352.9L454.2,355.6L457.3,358.0L460.4,360.0L463.6,361.7L466.9,363.1L470.3,364.1L474.0,364.7L477.9,364.9L477.9,385.0L471.7,384.7L465.9,383.7L460.3,382.1L455.1,380.0L450.2,377.4L445.7,374.5L441.4,371.3L437.4,367.9L433.7,364.3L430.1,360.6L426.6,356.9L423.3,353.1L420.1,349.4L416.9,345.7L413.8,342.2L410.7,338.8L407.6,335.7L404.5,332.7L401.4,330.1L398.3,327.8L395.2,325.8L392.0,324.1L388.7,322.8L385.4,321.8L381.8,321.2L377.9,321.0Z"/>
<path class="f" d="M377.9,324.5L383.0,324.6L387.8,324.8L392.3,325.1L396.6,325.6L400.7,326.2L404.6,326.9L408.3,327.6L411.9,328.4L415.3,329.3L418.7,330.2L421.9,331.2L425.1,332.2L428.3,333.2L431.5,334.2L434.7,335.2L437.9,336.1L441.2,337.0L444.6,337.9L448.1,338.7L451.7,339.4L455.5,340.1L459.5,340.7L463.7,341.1L468.2,341.5L472.9,341.7L477.9,341.8L477.9,344.5L472.8,344.4L468.0,344.2L463.5,343.9L459.2,343.4L455.1,342.8L451.2,342.2L447.5,341.4L443.9,340.6L440.5,339.8L437.1,338.8L433.9,337.9L430.7,336.9L427.5,335.9L424.3,335.0L421.1,334.0L417.9,333.1L414.6,332.2L411.2,331.3L407.7,330.5L404.1,329.8L400.2,329.1L396.3,328.6L392.0,328.1L387.6,327.8L382.9,327.6L377.9,327.5Z"/>
<path class="f" d="M377.9,330.0L382.0,329.1L386.2,326.3L390.4,321.5L394.5,314.9L398.4,306.6L402.3,296.9L405.9,285.9L409.4,273.9L412.9,260.9L416.2,247.2L419.5,233.0L422.7,218.5L425.9,203.8L429.1,189.0L432.3,174.4L435.6,160.2L438.9,146.5L442.4,133.4L445.9,121.2L449.7,110.1L453.6,100.1L457.7,91.5L462.1,84.5L466.8,79.0L472.1,75.5L477.9,74.2L477.9,78.0L473.6,78.9L469.4,81.8L465.1,86.7L461.0,93.3L457.1,101.7L453.3,111.4L449.7,122.4L446.2,134.5L442.8,147.4L439.5,161.1L436.2,175.3L433.1,189.9L429.9,204.6L426.8,219.4L423.6,234.0L420.3,248.2L417.0,262.0L413.6,275.0L410.1,287.2L406.4,298.4L402.5,308.3L398.4,317.0L394.0,324.1L389.2,329.6L383.9,333.2L377.9,334.5Z"/>
<path class="f" d="M377.9,334.5L383.1,334.6L388.0,334.7L392.6,335.0L397.0,335.3L401.2,335.7L405.2,336.2L409.0,336.8L412.6,337.4L416.1,338.1L419.5,338.7L422.8,339.5L426.1,340.2L429.3,340.9L432.4,341.6L435.6,342.3L438.7,343.0L442.0,343.6L445.3,344.3L448.7,344.8L452.3,345.4L456.0,345.8L459.9,346.2L464.0,346.6L468.4,346.8L473.0,346.9L477.9,347.0L477.9,359.2L472.7,359.2L467.8,359.0L463.2,358.8L458.8,358.5L454.7,358.1L450.7,357.6L446.9,357.1L443.2,356.6L439.7,356.0L436.3,355.4L433.0,354.7L429.7,354.1L426.5,353.5L423.4,352.8L420.2,352.2L417.0,351.6L413.8,351.0L410.4,350.4L407.0,349.9L403.5,349.5L399.8,349.0L395.9,348.7L391.8,348.4L387.4,348.2L382.8,348.0L377.9,348.0Z"/>
<path class="f" d="M377.9,348.0L383.1,348.2L388.0,348.6L392.6,349.4L397.0,350.4L401.2,351.7L405.1,353.2L408.9,354.8L412.5,356.6L416.0,358.5L419.3,360.5L422.6,362.6L425.8,364.7L429.0,366.8L432.1,369.0L435.3,371.0L438.5,373.1L441.8,375.0L445.1,376.9L448.6,378.6L452.1,380.1L455.9,381.5L459.8,382.7L464.0,383.7L468.3,384.4L473.0,384.8L477.9,385.0L477.9,388.5L472.7,388.3L467.9,387.9L463.3,387.1L458.9,386.1L454.8,384.9L450.8,383.5L447.0,381.9L443.4,380.1L439.9,378.3L436.5,376.3L433.2,374.3L430.0,372.2L426.8,370.1L423.6,368.0L420.4,366.0L417.2,364.0L413.9,362.1L410.6,360.3L407.1,358.6L403.5,357.1L399.8,355.8L395.9,354.6L391.8,353.7L387.4,353.0L382.8,352.6L377.9,352.4Z"/>
<path class="f" d="M377.9,355.2L381.0,354.4L384.7,351.6L388.8,346.5L392.8,339.2L396.8,329.9L400.7,318.9L404.4,306.4L408.0,292.7L411.4,277.9L414.8,262.3L418.1,246.1L421.3,229.5L424.5,212.6L427.6,195.8L430.8,179.1L434.1,162.8L437.3,147.1L440.7,132.1L444.2,118.2L447.9,105.3L451.7,93.9L455.7,83.9L460.1,75.5L465.0,68.9L470.9,64.3L477.9,62.5L477.9,71.8L475.2,72.5L471.8,75.2L468.0,80.3L464.2,87.7L460.4,97.0L456.7,108.0L453.2,120.5L449.7,134.3L446.4,149.0L443.1,164.6L439.9,180.9L436.8,197.5L433.6,214.3L430.4,231.2L427.2,247.9L423.9,264.2L420.5,279.9L417.0,294.9L413.4,308.9L409.5,321.7L405.5,333.2L401.2,343.2L396.5,351.6L391.3,358.2L385.2,362.8L377.9,364.5Z"/>
<path class="f" d="M377.9,364.5L381.8,363.6L385.9,360.5L390.2,355.3L394.4,347.9L398.4,338.7L402.3,327.8L406.0,315.5L409.6,302.1L413.1,287.6L416.4,272.3L419.7,256.4L422.9,240.2L426.1,223.7L429.3,207.2L432.5,190.9L435.7,174.9L439.0,159.6L442.3,145.0L445.8,131.3L449.4,118.8L453.2,107.7L457.2,98.0L461.5,90.0L466.3,83.8L471.6,79.6L477.9,78.0L477.9,84.0L474.4,84.9L470.6,87.9L466.6,93.2L462.7,100.5L458.8,109.8L455.1,120.6L451.6,132.9L448.1,146.4L444.8,160.9L441.5,176.1L438.3,192.0L435.1,208.3L431.9,224.8L428.8,241.3L425.5,257.6L422.2,273.5L418.9,288.9L415.4,303.5L411.7,317.1L407.9,329.6L403.9,340.8L399.7,350.5L395.1,358.5L390.1,364.7L384.4,368.9L377.9,370.4Z"/>
<path class="f" d="M377.9,370.4L382.8,370.1L387.5,369.0L391.9,367.4L396.1,365.2L400.1,362.6L403.9,359.4L407.5,355.9L411.0,352.0L414.4,347.8L417.7,343.3L421.0,338.7L424.2,334.0L427.3,329.1L430.5,324.3L433.7,319.5L436.9,314.9L440.2,310.4L443.6,306.1L447.2,302.0L450.9,298.3L454.8,295.0L458.9,292.2L463.2,289.8L467.8,288.1L472.7,287.0L477.9,286.6L477.9,289.8L473.2,290.1L468.7,291.1L464.5,292.7L460.5,294.8L456.7,297.5L453.0,300.6L449.4,304.1L446.0,308.0L442.6,312.2L439.3,316.6L436.1,321.2L432.9,325.9L429.7,330.7L426.5,335.5L423.3,340.3L420.0,345.0L416.6,349.4L413.1,353.7L409.5,357.7L405.7,361.4L401.7,364.7L397.4,367.5L393.0,369.8L388.2,371.5L383.2,372.6L377.9,373.0Z"/>
<path class="f" d="M377.9,373.0L382.1,372.8L385.9,372.3L389.5,371.4L393.0,370.2L396.3,368.7L399.5,367.0L402.6,365.0L405.7,362.7L408.8,360.3L411.8,357.6L414.9,354.7L418.0,351.7L421.1,348.6L424.3,345.4L427.6,342.2L431.0,339.0L434.5,335.9L438.3,332.8L442.2,329.9L446.4,327.2L450.9,324.7L455.7,322.5L460.8,320.7L466.2,319.4L471.9,318.6L477.9,318.3L477.9,339.2L473.9,339.4L470.2,339.9L466.7,340.8L463.4,341.9L460.2,343.3L457.1,345.0L454.0,347.0L451.0,349.2L447.9,351.7L444.9,354.3L441.8,357.2L438.7,360.1L435.5,363.2L432.3,366.4L429.0,369.6L425.5,372.8L421.9,375.9L418.1,378.9L414.0,381.8L409.7,384.5L405.2,386.9L400.3,389.1L395.2,390.8L389.7,392.1L383.9,392.9L377.9,393.2Z"/>
<path class="f" d="M377.9,395.3L382.9,395.3L387.7,395.3L392.2,395.3L396.4,395.3L400.5,395.3L404.3,395.3L408.0,395.3L411.5,395.3L415.0,395.3L418.3,395.3L421.5,395.3L424.7,395.3L427.9,395.3L431.1,395.3L434.3,395.3L437.5,395.3L440.8,395.3L444.3,395.3L447.8,395.3L451.5,395.3L455.3,395.3L459.4,395.3L463.6,395.3L468.1,395.3L472.9,395.3L477.9,395.3L477.9,475.3L472.9,475.3L468.1,475.3L463.6,475.3L459.4,475.3L455.3,475.3L451.5,475.3L447.8,475.3L444.3,475.3L440.8,475.3L437.5,475.3L434.3,475.3L431.1,475.3L427.9,475.3L424.7,475.3L421.5,475.3L418.3,475.3L415.0,475.3L411.5,475.3L408.0,475.3L404.3,475.3L400.5,475.3L396.4,475.3L392.2,475.3L387.7,475.3L382.9,475.3L377.9,475.3Z"/>
</g>
<g>
<rect x="26.6" y="59.25" width="13.00" height="22.50" fill="#e3171c"/>
<rect x="26.6" y="92" width="13.00" height="127.30" fill="#9dbf33"/>
<rect x="26.6" y="233.6" width="13.00" height="244.70" fill="#17963f"/>
<rect x="140.8" y="59.25" width="13.00" height="6.00" fill="#338da4"/>
<rect x="140.8" y="67.5" width="13.00" height="71.75" fill="#a86c32"/>
<rect x="140.8" y="149.25" width="13.00" height="6.25" fill="#dfdfdf"/>
<rect x="140.8" y="157.9" width="13.00" height="3.00" fill="#8965ab"/>
<rect x="140.8" y="163.75" width="13.00" height="38.45" fill="#dcb5d9"/>
<rect x="140.8" y="206" width="13.00" height="9.60" fill="#e3171c"/>
<rect x="140.8" y="218" width="13.00" height="48.50" fill="#9dbf33"/>
<rect x="140.8" y="269.6" width="13.00" height="208.70" fill="#17963f"/>
<rect x="252.8" y="59.25" width="13.10" height="44.75" fill="#338da4"/>
<rect x="252.8" y="106.5" width="13.10" height="13.50" fill="#a86c32"/>
<rect x="252.8" y="211" width="13.10" height="3.30" fill="#dfdfdf"/>
<rect x="252.8" y="216.5" width="13.10" height="3.00" fill="#8965ab"/>
<rect x="252.8" y="222" width="13.10" height="54.75" fill="#dcb5d9"/>
<rect x="252.8" y="279.25" width="13.10" height="12.50" fill="#e3171c"/>
<rect x="252.8" y="294.25" width="13.10" height="32.00" fill="#9dbf33"/>
<rect x="252.8" y="329.5" width="13.10" height="148.80" fill="#17963f"/>
<rect x="364.8" y="59.25" width="13.10" height="32.00" fill="#338da4"/>
<rect x="364.8" y="93.5" width="13.10" height="16.00" fill="#a86c32"/>
<rect x="364.8" y="260.5" width="13.10" height="9.00" fill="#dfdfdf"/>
<rect x="364.8" y="271.75" width="13.10" height="3.00" fill="#8965ab"/>
<rect x="364.8" y="277" width="13.10" height="44.75" fill="#dcb5d9"/>
<rect x="364.8" y="324.5" width="13.10" height="3.00" fill="#e3171c"/>
<rect x="364.8" y="330" width="13.10" height="22.50" fill="#9dbf33"/>
<rect x="364.8" y="355.25" width="13.10" height="123.05" fill="#17963f"/>
<rect x="477.9" y="59.25" width="13.20" height="12.50" fill="#338da4"/>
<rect x="477.9" y="74.25" width="13.20" height="9.75" fill="#a86c32"/>
<rect x="477.9" y="283.5" width="13.20" height="6.25" fill="#dfdfdf"/>
<rect x="477.9" y="292" width="13.20" height="3.00" fill="#8965ab"/>
<rect x="477.9" y="297" width="13.20" height="42.25" fill="#dcb5d9"/>
<rect x="477.9" y="341.75" width="13.20" height="2.75" fill="#e3171c"/>
<rect x="477.9" y="347" width="13.20" height="12.25" fill="#9dbf33"/>
<rect x="477.9" y="361.75" width="13.20" height="116.55" fill="#17963f"/>
</g>
<g fill="#141414" fill-opacity="0.82">
<text transform="translate(30.30,73.70) scale(1.0000,1)" font-size="10.1" stroke-width="0.3">7</text>
<text transform="translate(27.49,158.85) scale(1.0000,1)" font-size="10.1" stroke-width="0.3">39</text>
<text transform="translate(27.49,359.15) scale(1.0000,1)" font-size="10.1" stroke-width="0.3">75</text>
<text transform="translate(141.69,106.58) scale(1.0000,1)" font-size="10.1" stroke-width="0.3">22</text>
<text transform="translate(141.69,186.17) scale(1.0000,1)" font-size="10.1" stroke-width="0.3">12</text>
<text transform="translate(144.50,214.00) scale(1.0000,1)" font-size="10.1" stroke-width="0.3">3</text>
<text transform="translate(141.69,245.45) scale(1.0000,1)" font-size="10.1" stroke-width="0.3">15</text>
<text transform="translate(141.69,377.15) scale(1.0000,1)" font-size="10.1" stroke-width="0.3">64</text>
<text transform="translate(253.74,84.83) scale(1.0000,1)" font-size="10.1" stroke-width="0.3">16</text>
<text transform="translate(256.55,116.45) scale(1.0000,1)" font-size="10.1" stroke-width="0.3">4</text>
<text transform="translate(253.74,252.57) scale(1.0000,1)" font-size="10.1" stroke-width="0.3">17</text>
<text transform="translate(256.55,288.70) scale(1.0000,1)" font-size="10.1" stroke-width="0.3">4</text>
<text transform="translate(253.74,313.45) scale(1.0000,1)" font-size="10.1" stroke-width="0.3">10</text>
<text transform="translate(253.74,407.10) scale(1.0000,1)" font-size="10.1" stroke-width="0.3">46</text>
<text transform="translate(365.74,78.45) scale(1.0000,1)" font-size="10.1" stroke-width="0.3">10</text>
<text transform="translate(368.55,104.70) scale(1.0000,1)" font-size="10.1" stroke-width="0.3">5</text>
<text transform="translate(365.74,302.57) scale(1.0000,1)" font-size="10.1" stroke-width="0.3">14</text>
<text transform="translate(368.55,344.45) scale(1.0000,1)" font-size="10.1" stroke-width="0.3">7</text>
<text transform="translate(365.74,419.97) scale(1.0000,1)" font-size="10.1" stroke-width="0.3">38</text>
<text transform="translate(481.70,68.70) scale(1.0000,1)" font-size="10.1" stroke-width="0.3">4</text>
<text transform="translate(481.70,82.33) scale(1.0000,1)" font-size="10.1" stroke-width="0.3">3</text>
<text transform="translate(478.89,321.32) scale(1.0000,1)" font-size="10.1" stroke-width="0.3">13</text>
<text transform="translate(481.70,356.32) scale(1.0000,1)" font-size="10.1" stroke-width="0.3">3</text>
<text transform="translate(478.89,423.22) scale(1.0000,1)" font-size="10.1" stroke-width="0.3">36</text>
</g>
<text transform="translate(243.64,28.70) scale(0.9859,1)" font-size="18">Years</text>
<text transform="translate(29.42,48.70) scale(1.0000,1)" font-size="14">1</text>
<text transform="translate(143.62,48.70) scale(1.0000,1)" font-size="14">2</text>
<text transform="translate(255.67,48.70) scale(1.0000,1)" font-size="14">3</text>
<text transform="translate(367.67,48.70) scale(1.0000,1)" font-size="14">4</text>
<text transform="translate(480.81,48.70) scale(1.0000,1)" font-size="14">5</text>
<text transform="translate(12.99,497.50) scale(1.0800,1)" font-size="14">n</text>
<text transform="translate(24.82,497.10) scale(1.5969,0.72)" font-size="14">=</text>
<text transform="translate(41.39,497.50) scale(1.0401,1)" font-size="14">121</text>
<text transform="translate(124.79,497.50) scale(1.0962,1)" font-size="14">n</text>
<text transform="translate(136.63,497.10) scale(1.5730,0.72)" font-size="14">=</text>
<text transform="translate(151.60,497.50) scale(1.1227,1)" font-size="14">97</text>
<text transform="translate(237.38,497.50) scale(1.0577,1)" font-size="14">n</text>
<text transform="translate(249.63,497.10) scale(1.5730,0.72)" font-size="14">=</text>
<text transform="translate(264.31,497.50) scale(1.1352,1)" font-size="14">79</text>
<text transform="translate(348.49,497.50) scale(1.1015,1)" font-size="14">n</text>
<text transform="translate(360.64,497.10) scale(1.5646,0.72)" font-size="14">=</text>
<text transform="translate(375.95,497.50) scale(1.1602,1)" font-size="14">64</text>
<text transform="translate(462.79,497.50) scale(1.0962,1)" font-size="14">n</text>
<text transform="translate(474.73,497.10) scale(1.5456,0.72)" font-size="14">=</text>
<text transform="translate(489.96,497.50) scale(1.1147,1)" font-size="14">57</text>
<rect x="102.2" y="518.9" width="12.7" height="12.40" fill="#17963f"/><text transform="translate(120.60,530.00) scale(0.9775,1)" font-size="14.4">Complete response</text>
<rect x="102.2" y="540.7" width="12.7" height="12.20" fill="#9dbf33"/><text transform="translate(121.37,551.60) scale(0.9547,1)" font-size="14.4">Partial response</text>
<rect x="102.2" y="562.6" width="12.7" height="12.70" fill="#e3171c"/><text transform="translate(120.62,573.20) scale(0.9826,1)" font-size="14.4">No response</text>
<rect x="102.2" y="584.4" width="12.7" height="12.60" fill="#dcb5d9"/><text transform="translate(121.09,594.60) scale(0.9618,1)" font-size="14.4">Partial loss of response</text>
<rect x="280.6" y="515.3" width="13" height="12.50" fill="#8965ab"/><text transform="translate(298.86,525.30) scale(0.9805,1)" font-size="14.4">Loss of response</text>
<rect x="280.6" y="537.1" width="13" height="12.50" fill="#dfdfdf"/><text transform="translate(298.86,546.75) scale(0.9844,1)" font-size="14.4">Missing data</text>
<rect x="280.6" y="559" width="13" height="12.50" fill="#a86c32"/><text transform="translate(298.93,568.60) scale(0.9600,1)" font-size="14.4">Treatment interruption</text>
<rect x="280.6" y="581.1" width="13" height="12.30" fill="#338da4"/><text transform="translate(298.87,590.00) scale(0.9323,1)" font-size="14.4">End of follow-up</text>
<path d="M0,0H520V612H0ZM1.05,1.05V610.45H518.9V1.05Z" fill="#000" fill-rule="evenodd"/>
</svg>
</body></html>
